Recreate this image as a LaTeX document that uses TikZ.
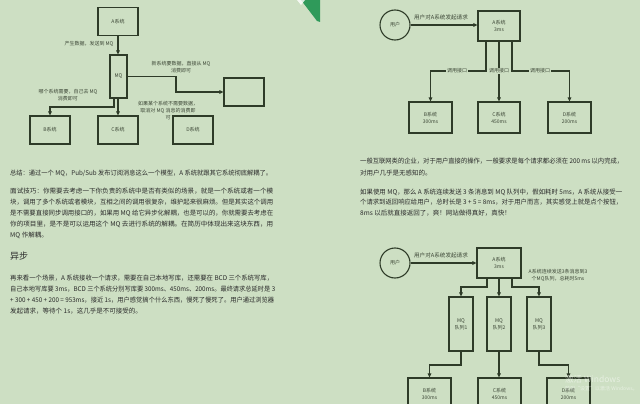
\documentclass[tikz,border=0pt]{standalone}
\usepackage{fontspec}
\usepackage{graphicx}
\setmainfont{Noto Sans CJK SC}
\usetikzlibrary{arrows.meta,calc}
\definecolor{bg}{HTML}{CDDFC3}
\definecolor{ln}{HTML}{2E3B28}
\definecolor{tx}{HTML}{2B2B2B}
\definecolor{dtx}{HTML}{3C4636}
\definecolor{corner}{HTML}{2F9A5A}
\newcommand{\fullline}[2]{\resizebox{#1pt}{\height}{#2}}
\begin{document}
\begin{tikzpicture}[x=1pt,y=-1pt,
  box/.style={draw=ln,line width=1.1pt,fill=bg,inner sep=0pt,align=center,font=\fontsize{5}{7}\selectfont,text=dtx},
  circ/.style={draw=ln,line width=1.1pt,circle,minimum size=30pt,inner sep=0pt,font=\fontsize{5}{7}\selectfont,text=dtx},
  arr/.style={draw=ln,line width=1.1pt,-{Triangle[length=4pt,width=3.5pt]}},
  lbl/.style={font=\fontsize{5}{7}\selectfont,text=dtx,inner sep=0.8pt,align=center},
  body/.style={font=\fontsize{6.5}{11}\selectfont,text=tx,anchor=west,inner sep=0pt},
  wm/.style={anchor=west,text=white,opacity=0.5,inner sep=0pt}
]
\fill[bg] (0,0) rectangle (640,404);
\clip (0,0) rectangle (640,404);
\useasboundingbox (0,0) rectangle (640,404);

% green corner mark
\fill[corner] (301,0) -- (320,0) -- (320,22) -- (317,21) -- cycle;
\fill[white,opacity=0.8] (297,0) -- (305,0) -- (301,5) -- cycle;

% ---------- left diagram ----------
\node[box,minimum width=40pt,minimum height=28pt] (a1) at (118,21.5) {A系统};
\node[box,minimum width=17pt,minimum height=43pt] (mq) at (118.5,76.5) {MQ};
\node[box,minimum width=40pt,minimum height=28pt] (n1) at (244,92) {};
\node[box,minimum width=40pt,minimum height=28pt] (b1) at (50,130) {B系统};
\node[box,minimum width=40pt,minimum height=28pt] (c1) at (118,130) {C系统};
\node[box,minimum width=40pt,minimum height=28pt] (d1) at (193,130) {D系统};

\draw[arr] (a1.south) -- (a1.south |- mq.north);
\coordinate (k1) at (176,76.5);
\draw[arr] (mq.east) -- (k1) |- (n1.west);
\coordinate (k2) at (114,107);
\draw[arr] (mq.south -| k2) -- (k2) -| (b1.north);
\draw[arr] (mq.south -| c1.north) -- (c1.north);

\node[lbl] (t1) at (89,44) {产生数据，发送到 MQ};
\node[lbl] (t2) at (181,67.5) {新系统要数据，直接从 MQ\\消费即可};
\node[lbl] (t3) at (68,95.5) {哪个系统需要，自己去 MQ\\消费即可};
\node[lbl] (t4) at (168,110.5) {如果某个系统不需要数据，\\取消对 MQ 消息的消费即\\可};

% ---------- left text ----------
\node[body] (s1) at (10,173) {\fullline{262}{总结：通过一个 MQ，Pub/Sub 发布订阅消息这么一个模型，A 系统就跟其它系统彻底解耦了。}};
\node[body] (s2) at (10,191) {\fullline{263}{面试技巧：你需要去考虑一下你负责的系统中是否有类似的场景，就是一个系统或者一个模}};
\node[body] (s3) at (10,202) {\fullline{263}{块，调用了多个系统或者模块，互相之间的调用很复杂，维护起来很麻烦。但是其实这个调用}};
\node[body] (s4) at (10,213) {\fullline{263}{是不需要直接同步调用接口的，如果用 MQ 给它异步化解耦，也是可以的，你就需要去考虑在}};
\node[body] (s5) at (10,224) {\fullline{263}{你的项目里，是不是可以运用这个 MQ 去进行系统的解耦。在简历中体现出来这块东西，用}};
\node[body] (s6) at (10,235) {MQ 作解耦。};
\node[body,font=\fontsize{9}{11}\selectfont] (h1) at (10,256) {异步};
\node[body] (s7) at (10,278) {\fullline{263}{再来看一个场景，A 系统接收一个请求，需要在自己本地写库，还需要在 BCD 三个系统写库，}};
\node[body] (s8) at (10,289) {\fullline{265}{自己本地写库要 3ms，BCD 三个系统分别写库要 300ms、450ms、200ms。最终请求总延时是 3}};
\node[body] (s9) at (10,300) {\fullline{264}{+ 300 + 450 + 200 = 953ms，接近 1s，用户感觉搞个什么东西，慢死了慢死了。用户通过浏览器}};
\node[body] (s10) at (10,311) {发起请求，等待个 1s，这几乎是不可接受的。};

% ---------- right top diagram ----------
\node[circ] (u1) at (395,25) {用户};
\node[box,minimum width=42pt,minimum height=30pt] (a2) at (499,26) {A系统\\3ms};
\node[box,minimum width=43pt,minimum height=31pt] (b2) at (430.5,117.5) {B系统\\300ms};
\node[box,minimum width=42pt,minimum height=31pt] (c2) at (499,117.5) {C系统\\450ms};
\node[box,minimum width=43pt,minimum height=31pt] (d2) at (569.5,117.5) {D系统\\200ms};
\draw[arr] (u1.east) -- (u1.east -| a2.west);
\node[lbl,font=\fontsize{5.6}{7}\selectfont] (t5) at (441,17) {用户对A系统发起请求};
\coordinate (p1) at (486,71);
\coordinate (p3) at (512,71);
\draw[arr] (a2.south -| p1) -- (p1) -| (b2.north);
\draw[arr] (a2.south) -- (c2.north);
\draw[arr] (a2.south -| p3) -- (p3) -| (d2.north);
\node[lbl,fill=bg] (q1) at (457,71) {调用接口};
\node[lbl,fill=bg] (q2) at (499,71) {调用接口};
\node[lbl,fill=bg] (q3) at (540,71) {调用接口};

% ---------- right text ----------
\node[body] (r1) at (360,161) {\fullline{263}{一般互联网类的企业，对于用户直接的操作，一般要求是每个请求都必须在 200 ms 以内完成，}};
\node[body] (r2) at (360,173) {对用户几乎是无感知的。};
\node[body] (r3) at (360,192) {\fullline{262}{如果使用 MQ，那么 A 系统连续发送 3 条消息到 MQ 队列中，假如耗时 5ms，A 系统从接受一}};
\node[body] (r4) at (360,202) {\fullline{262}{个请求到返回响应给用户，总时长是 3 + 5 = 8ms，对于用户而言，其实感觉上就是点个按钮，}};
\node[body] (r5) at (360,213) {8ms 以后就直接返回了，爽！网站做得真好，真快！};

% ---------- right bottom diagram ----------
\node[circ] (u2) at (395,263) {用户};
\node[box,minimum width=44pt,minimum height=30pt] (a3) at (499,263) {A系统\\3ms};
\draw[arr] (u2.east) -- (u2.east -| a3.west);
\node[lbl,font=\fontsize{5.6}{7}\selectfont] (t6) at (441,255) {用户对A系统发起请求};
\node[lbl] (t7) at (558,275) {A系统连续发送3条消息到3\\个MQ队列，总耗时5ms};
\node[box,minimum width=24pt,minimum height=54pt] (m1) at (461,324) {MQ\\队列1};
\node[box,minimum width=24pt,minimum height=54pt] (m2) at (499,324) {MQ\\队列2};
\node[box,minimum width=24pt,minimum height=54pt] (m3) at (539,324) {MQ\\队列3};
\coordinate (g1) at (487,287);
\coordinate (g3) at (512,287);
\draw[arr] (a3.south -| g1) -- (g1) -| (m1.north);
\draw[arr] (a3.south) -- (m2.north);
\draw[arr] (a3.south -| g3) -- (g3) -| (m3.north);
\node[box,minimum width=43pt,minimum height=31pt] (b3) at (429.5,393.5) {B系统\\300ms};
\node[box,minimum width=43pt,minimum height=31pt] (c3) at (499.5,393.5) {C系统\\450ms};
\node[box,minimum width=43pt,minimum height=31pt] (d3) at (568.5,393.5) {D系统\\200ms};
\coordinate (h1c) at (461,365);
\coordinate (h3c) at (539,365);
\draw[arr] (m1.south) -- (h1c) -| (b3.north);
\draw[arr] (m2.south) -- (m2.south |- c3.north);
\draw[arr] (m3.south) -- (h3c) -| (d3.north);

% watermark
\node[wm,font=\fontsize{8.5}{9}\selectfont] (w1) at (565,379) {激活 Windows};
\node[wm,font=\fontsize{5}{6}\selectfont] (w2) at (565,389) {转到“设置”以激活 Windows。};
\end{tikzpicture}
\end{document}
